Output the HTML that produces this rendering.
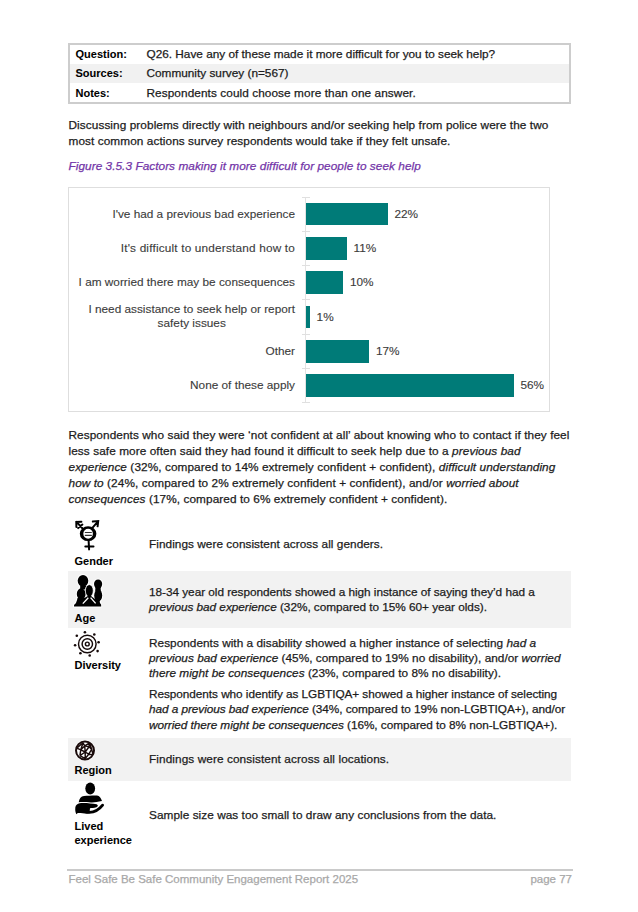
<!DOCTYPE html>
<html><head><meta charset="utf-8">
<style>
*{margin:0;padding:0;box-sizing:border-box}
html,body{width:638px;height:912px;background:#fff;overflow:hidden}
body{position:relative;font-family:"Liberation Sans",sans-serif;color:#1c1c1c;font-size:11.8px;-webkit-text-stroke:0.25px currentColor}
.abs{position:absolute}
.tbl{left:68px;top:42.5px;width:503px;height:61.5px;border:2px solid #cdcdcd;}
.tr{position:absolute;left:0;width:499px;height:19.4px}
.tr b{position:absolute;left:5.5px;margin-top:2px;-webkit-text-stroke:0.05px #000;font-size:11px;color:#000}
.tr span{position:absolute;left:76.5px;margin-top:1px}
.p{left:68.5px;line-height:16px;white-space:nowrap;letter-spacing:0.08px}
.cap{left:68.5px;color:#7335a8;font-style:italic;white-space:nowrap;letter-spacing:0.05px}
.chart{left:68px;top:187px;width:482px;height:225px;border:1px solid #dedede}
.lbl{position:absolute;right:343px;color:#3c3c3c;-webkit-text-stroke:0.12px #3c3c3c;font-size:11.8px;text-align:center;line-height:14.6px;white-space:nowrap}
.bar{position:absolute;left:306.4px;height:22.6px;background:#007b78}
.val{position:absolute;color:#3c3c3c;-webkit-text-stroke:0.12px #3c3c3c;font-size:11.8px;white-space:nowrap}
.band{left:68px;width:503px;background:#f2f2f2}
.dl{position:absolute;-webkit-text-stroke:0.05px #000;left:74.5px;font-weight:bold;font-size:11px;color:#000;line-height:14.5px}
.dt{position:absolute;left:149px;white-space:nowrap;line-height:15.2px}
.foot{left:66.6px;top:869px;width:506.5px;height:2px;background:#cacaca}
.ft{color:#a8a8a8;font-size:11.5px;white-space:nowrap}
</style></head><body>

<!-- Question table -->
<div class="abs tbl">
  <div class="tr" style="top:0"><b style="top:1.5px">Question:</b><span style="top:1.5px">Q26. Have any of these made it more difficult for you to seek help?</span></div>
  <div class="tr" style="top:19.4px;background:#f1f1f1"><b style="top:1.5px">Sources:</b><span style="top:1.5px">Community survey (n=567)</span></div>
  <div class="tr" style="top:38.8px"><b style="top:1.5px">Notes:</b><span style="top:1.5px;letter-spacing:0.08px">Respondents could choose more than one answer.</span></div>
</div>

<div class="abs p" style="top:116.8px">Discussing problems directly with neighbours and/or seeking help from police were the two<br>most common actions survey respondents would take if they felt unsafe.</div>

<div class="abs cap" style="top:158.5px">Figure 3.5.3 Factors making it more difficult for people to seek help</div>

<!-- Chart -->
<div class="abs chart"></div>
<div class="abs" style="left:305.4px;top:197px;width:1px;height:206px;background:#e2e2e2"></div>
<div class="abs" style="left:302px;top:196.5px;width:8px;height:1px;background:#e0e0e0"></div>
<div class="abs" style="left:302px;top:230.8px;width:8px;height:1px;background:#e0e0e0"></div>
<div class="abs" style="left:302px;top:265.1px;width:8px;height:1px;background:#e0e0e0"></div>
<div class="abs" style="left:302px;top:299.4px;width:8px;height:1px;background:#e0e0e0"></div>
<div class="abs" style="left:302px;top:333.7px;width:8px;height:1px;background:#e0e0e0"></div>
<div class="abs" style="left:302px;top:368.0px;width:8px;height:1px;background:#e0e0e0"></div>
<div class="abs" style="left:302px;top:402.3px;width:8px;height:1px;background:#e0e0e0"></div>
<div class="bar" style="top:202.8px;width:81.2px"></div>
<div class="val" style="left:394.4px;top:206.8px;line-height:14.6px">22%</div>
<div class="lbl" style="top:206.6px">I've had a previous bad experience</div>
<div class="bar" style="top:237.1px;width:40.4px"></div>
<div class="val" style="left:353.6px;top:241.1px;line-height:14.6px">11%</div>
<div class="lbl" style="top:240.9px;letter-spacing:0.18px">It's difficult to understand how to</div>
<div class="bar" style="top:271.4px;width:36.8px"></div>
<div class="val" style="left:350.0px;top:275.4px;line-height:14.6px">10%</div>
<div class="lbl" style="top:275.2px">I am worried there may be consequences</div>
<div class="bar" style="top:305.7px;width:3.4px"></div>
<div class="val" style="left:316.6px;top:309.7px;line-height:14.6px">1%</div>
<div class="lbl" style="top:301.8px">I need assistance to seek help or report<br>safety issues</div>
<div class="bar" style="top:340.1px;width:62.7px"></div>
<div class="val" style="left:375.9px;top:344.0px;line-height:14.6px">17%</div>
<div class="lbl" style="top:343.8px">Other</div>
<div class="bar" style="top:374.3px;width:207.3px"></div>
<div class="val" style="left:520.5px;top:378.3px;line-height:14.6px">56%</div>
<div class="lbl" style="top:378.1px">None of these apply</div>

<div class="abs p" style="top:426.7px">Respondents who said they were ‘not confident at all’ about knowing who to contact if they feel<br>less safe more often said they had found it difficult to seek help due to a <i>previous bad</i><br><i>experience</i> (32%, compared to 14% extremely confident + confident), <i>difficult understanding</i><br><i>how to</i> (24%, compared to 2% extremely confident + confident), and/or <i>worried about</i><br><i>consequences</i> (17%, compared to 6% extremely confident + confident).</div>

<!-- demographic bands -->
<div class="abs band" style="top:571px;height:57px"></div>
<div class="abs band" style="top:738px;height:42.5px"></div>


<!-- demographics text -->
<div class="dt" style="top:536.9px;letter-spacing:0.045px">Findings were consistent across all genders.</div>
<div class="dt" style="top:584.6px;letter-spacing:-0.035px">18-34 year old respondents showed a high instance of saying they’d had a<br><i>previous bad experience</i> (32%, compared to 15% 60+ year olds).</div>
<div class="dt" style="top:635.5px;letter-spacing:0.03px">Respondents with a disability showed a higher instance of selecting <i>had a</i><br><i>previous bad experience</i> (45%, compared to 19% no disability), and/or <i>worried</i><br><i>there might be consequences</i> (23%, compared to 8% no disability).</div>
<div class="dt" style="top:687.2px;letter-spacing:-0.055px">Respondents who identify as LGBTIQA+ showed a higher instance of selecting<br><i>had a previous bad experience</i> (34%, compared to 19% non-LGBTIQA+), and/or<br><i>worried there might be consequences</i> (16%, compared to 8% non-LGBTIQA+).</div>
<div class="dt" style="top:751.5px;letter-spacing:0.09px">Findings were consistent across all locations.</div>
<div class="dt" style="top:807.6px;letter-spacing:0.05px">Sample size was too small to draw any conclusions from the data.</div>

<div class="dl" style="top:553.9px">Gender</div>
<div class="dl" style="top:611.3px">Age</div>
<div class="dl" style="top:657.5px">Diversity</div>
<div class="dl" style="top:763.1px">Region</div>
<div class="dl" style="top:818.7px">Lived<br>experience</div>


<svg class="abs" style="left:0;top:0" width="638" height="912" viewBox="0 0 638 912">
 <!-- gender -->
 <g fill="none" stroke="#000" stroke-linecap="round">
  <path d="M79.80 533.7a8.3 7.4 0 1 0 16.60 0a8.3 7.4 0 1 0 -16.60 0ZM83.30 533.7a4.8 5.0 0 1 0 9.60 0a4.8 5.0 0 1 0 -9.60 0Z" fill="#000" stroke="none" fill-rule="evenodd"/>
  <path d="M85.3 532.5H91.4M85.3 535.4H91.4" stroke-width="1.1" stroke="#333"/>
  <path d="M92.6 527.6L98 521.4M92.8 521.6L98.2 521.1L97.6 526.3" stroke-width="2"/>
  <path d="M82.4 528.2L76.5 521.9M76.4 527L76.3 521.9L81.4 521.8M78.2 528.1L82.4 524.6" stroke-width="2"/>
  <path d="M88.6 540.5L89.1 549.4M85.3 546.4H93.5" stroke-width="2"/>
 </g>
 <!-- age -->
 <g fill="#fff" stroke="#fff" stroke-width="2" stroke-linejoin="round">
  <ellipse cx="83" cy="580.8" rx="5.3" ry="5.9"/>
  <ellipse cx="81.2" cy="594" rx="4.4" ry="5.8"/>
  <path d="M80.2 585.5L86.3 585.8L84.8 589.6L80.2 589.2Z"/>
  <ellipse cx="98.1" cy="584.1" rx="4.1" ry="4.7"/>
  <ellipse cx="98.2" cy="595.4" rx="4" ry="6"/>
  <path d="M95.4 587.5L100.6 587.5L100.8 591L95.2 591Z"/>
  <path d="M74 606.6L74.1 604.8Q76.5 603.5 77.5 598L84.5 598L89.4 595L95 599L99.5 600Q99.5 603 101.1 604.4L101.2 606.6Z"/>
  <ellipse cx="89.3" cy="590.8" rx="3.9" ry="6.1"/>
 </g>
 <g fill="#000">
  <ellipse cx="83" cy="580.8" rx="5.3" ry="5.9"/>
  <ellipse cx="81.2" cy="594" rx="4.4" ry="5.8"/>
  <path d="M80.2 585.5L86.3 585.8L84.8 589.6L80.2 589.2Z"/>
  <ellipse cx="98.1" cy="584.1" rx="4.1" ry="4.7"/>
  <ellipse cx="98.2" cy="595.4" rx="4" ry="6"/>
  <path d="M95.4 587.5L100.6 587.5L100.8 591L95.2 591Z"/>
  <path d="M74 606.6L74.1 604.8Q76.5 603.5 77.5 598L84.5 598L89.4 595L95 599L99.5 600Q99.5 603 101.1 604.4L101.2 606.6Z"/>
  <ellipse cx="89.3" cy="590.8" rx="3.9" ry="6.1" stroke="#fff" stroke-width="0.6"/>
  <path d="M89.4 593L83.2 604.2L95.8 604.2Z"/>
  <path d="M88.3 597.8L82.8 603.6M90.6 597.6L95.6 603.4" stroke="#fff" stroke-width="1.3" fill="none"/>
 </g>
 <!-- diversity -->
 <g fill="none" stroke="#160a0a" stroke-width="1.45">
  <circle cx="87.3" cy="644" r="8.8"/>
  <circle cx="87.3" cy="644" r="5.2"/>
  <circle cx="87.3" cy="644" r="1.9"/>
 </g>
 <g fill="#160a0a">
  <circle cx="84.9" cy="632.3" r="1.3"/><circle cx="94.3" cy="634.5" r="1.3"/><circle cx="98.6" cy="642.3" r="1.3"/><circle cx="97.6" cy="651.1" r="1.3"/>
  <circle cx="89.7" cy="655.5" r="1.3"/><circle cx="80.4" cy="653.3" r="1.3"/><circle cx="75.1" cy="645.3" r="1.3"/><circle cx="76.8" cy="635.8" r="1.3"/>
 </g>
 <!-- region -->
 <circle cx="85" cy="750.5" r="10.6" fill="#fff" opacity="0.6"/>
 <circle cx="85" cy="750.5" r="9" fill="#fff" stroke="#1a0b0b" stroke-width="2"/>
 <path d="M83.0 742.8L84.7 745.9M84.7 745.9L89.6 742.8M84.7 745.9L80.8 749.8M84.7 745.9L85.2 752.0M84.7 745.9L89.1 746.8M89.1 746.8L89.6 742.8M89.1 746.8L91.7 749.4M89.1 746.8L85.2 752.0M85.2 752.0L80.8 749.8M85.2 752.0L88.7 754.2M85.2 752.0L79.9 755.6M80.8 749.8L76.8 748.1M80.8 749.8L79.9 755.6M88.7 754.2L91.7 749.4M88.7 754.2L93.1 754.7M88.7 754.2L85.2 758.6M79.9 755.6L85.2 758.6M91.7 749.4L93.1 754.7M83.0 742.8L80.8 749.8M76.8 748.1L83.0 742.8M85.2 752.0L85.2 758.6M89.6 742.8L91.7 749.4" fill="none" stroke="#1a0b0b" stroke-width="1.45" stroke-linejoin="round"/>
 <!-- lived experience -->
 <g fill="#000">
  <ellipse cx="90.2" cy="788.5" rx="4.9" ry="5.9"/>
  <path d="M78.7 802.2C79.3 798.5 81 796.3 84 796C88 795.6 93 795.4 97 795.5C99.5 795.8 101 798 102 801C98 801.6 95 802.3 92 802.4C88 802.6 84 801.6 78.7 802.2Z"/>
  <path d="M75.3 807.5C75.6 805 77.5 803.6 81 803.1C86 802.8 92 803.6 96.6 804.2C98.4 804.8 98.2 806.6 96.4 807.2C94 807.9 91.5 807.9 90 808.2L89.5 813.3C85.5 813.8 81 812.8 77.8 813L76.3 814.2C75.3 812 75.1 810 75.3 808Z"/>
  <path d="M86 812Q96 813.8 102.6 805.2" fill="none" stroke="#000" stroke-width="2.8" stroke-linecap="round"/>
 </g>
</svg>

<div class="abs foot"></div>
<div class="abs ft" style="left:68.5px;top:873px">Feel Safe Be Safe Community Engagement Report 2025</div>
<div class="abs ft" style="right:66px;top:873px">page 77</div>
</body></html>
